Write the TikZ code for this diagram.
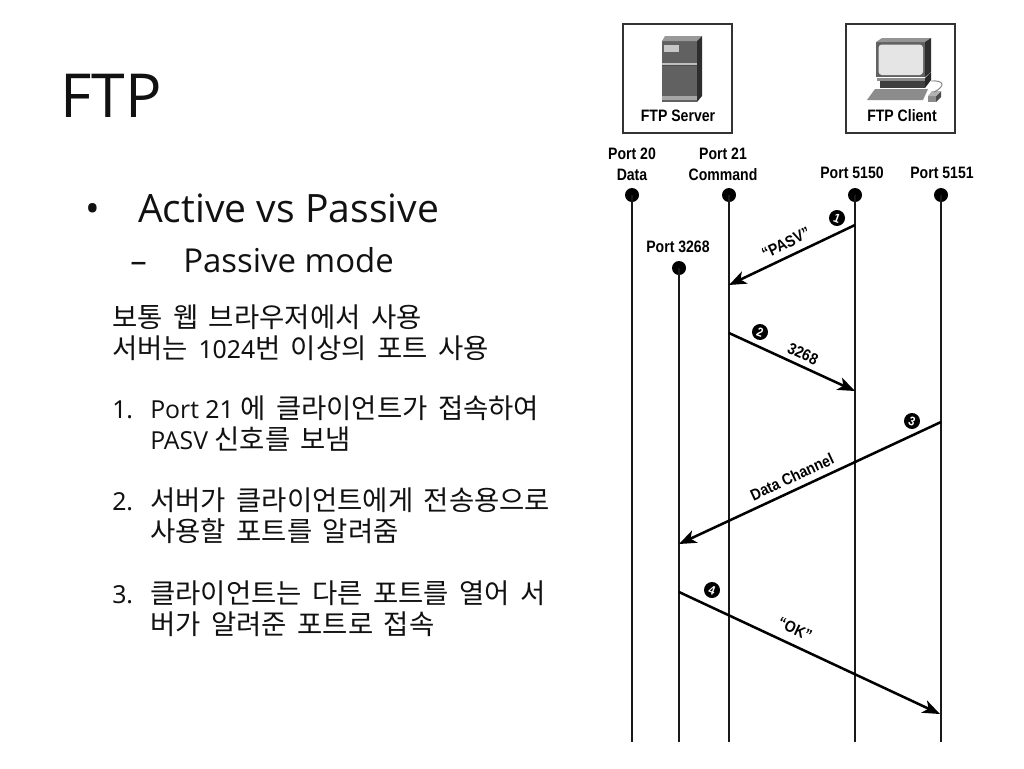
\documentclass[tikz,border=0pt]{standalone}
\usepackage{fontspec}
\usetikzlibrary{arrows.meta}
\setmainfont{Open Sans}
\newfontfamily\digfont{Noto Sans}
\newcommand{\dg}[1]{{\digfont #1}}
\newfontfamily\cjkbase[WordSpace=1.7]{Noto Sans CJK KR}
\newcommand{\ko}[1]{{\cjkbase\fontsize{20.6}{22}\selectfont #1}}
\newfontfamily\figfont[FakeStretch=0.85]{Liberation Sans Bold}
\newfontfamily\msgfont[FakeStretch=0.88]{Liberation Sans Bold}
\definecolor{txt}{HTML}{111111}
\tikzset{
  x=0.75pt,y=-0.75pt,
  title/.style={anchor=base west,inner sep=0pt,font=\fontsize{45.5}{50}\selectfont,text=txt},
  lvlone/.style={anchor=base west,inner sep=0pt,font=\fontsize{29.3}{32}\selectfont,text=txt},
  lvltwo/.style={anchor=base west,inner sep=0pt,font=\fontsize{24.7}{28}\selectfont,text=txt},
  body/.style={anchor=base west,inner sep=0pt,font=\fontsize{18.6}{20}\selectfont,text=txt},
  figbox/.style={draw=black!80,line width=1.1pt,fill=white},
  figlabel/.style={inner sep=0pt,font=\figfont\fontsize{12.4}{15}\selectfont,align=center,text=black},
  msglabel/.style={inner sep=0pt,font=\msgfont\fontsize{12}{13}\selectfont,text=black},
  dot/.style={circle,fill=black,inner sep=0pt,minimum size=10.5pt},
  step num/.style={circle,fill=black,inner sep=0pt,minimum size=12pt,text=white,font=\msgfont\fontsize{9.5}{10}\selectfont},
  lifeline/.style={line width=1.6pt,black!90},
  msg/.style={line width=1.9pt,black,-{Stealth[length=13pt,width=10pt,inset=3.5pt]}},
}
\begin{document}
\begin{tikzpicture}
\useasboundingbox (0,0) rectangle (1024,768);
\fill[white] (0,0) rectangle (1024,768);

% Left text
\node[title] (ttl) at (60,117) {FTP};
\node[lvlone] (bul) at (85,222) {•};
\node[lvlone] (act) at (138,222) {Active vs Passive};
\node[lvltwo] (dsh) at (130,272) {–};
\node[lvltwo] (pas) at (183,272) {Passive mode};
\node[body] (l1) at (112,327) {\ko{보통 웹 브라우저에서 사용}};
\node[body] (l2) at (112,358) {\ko{서버는 }\dg{1024}\ko{번 이상의 포트 사용}};
\node[body] (n1) at (112,418) {\dg{1.}};
\node[body] (l3) at (150,418) {Port \dg{21} \ko{에 클라이언트가 접속하여}};
\node[body] (l4) at (150,449) {PASV \ko{신호를 보냄}};
\node[body] (n2) at (112,510) {\dg{2.}};
\node[body] (l5) at (150,510) {\ko{서버가 클라이언트에게 전송용으로}};
\node[body] (l6) at (150,541) {\ko{사용할 포트를 알려줌}};
\node[body] (n3) at (112,603) {\dg{3.}};
\node[body] (l7) at (150,603) {\ko{클라이언트는 다른 포트를 열어 서}};
\node[body] (l8) at (150,634) {\ko{버가 알려준 포트로 접속}};

% Boxes
\draw[figbox] (623,24) rectangle (732,133);
\draw[figbox] (846,24) rectangle (955,133);
\node[figlabel] (srv) at (678,116) {FTP Server};
\node[figlabel] (cli) at (902,116) {FTP Client};

% Server icon
\fill[black!62] (662,41) -- (697,41) -- (697,102) -- (662,102) -- cycle;
\fill[black!40] (662,41) -- (665,36) -- (702,36) -- (697,41) -- cycle;
\fill[black!82] (697,41) -- (702,36) -- (702,96) -- (697,102) -- cycle;
\fill[black!22] (664,45) rectangle (679,52);
\fill[black!25] (662,63) rectangle (697,64.5);
\fill[black!35] (662,96) rectangle (697,100);
\fill[black!70] (662,64.5) rectangle (697,66);

% Client icon
\fill[black!62] (876,42) -- (925,42) -- (925,77) -- (876,77) -- cycle;
\fill[black!42] (876,42) -- (882,38) -- (931,38) -- (925,42) -- cycle;
\fill[black!82] (925,42) -- (931,38) -- (931,72) -- (925,77) -- cycle;
\fill[black!10,rounded corners=2.5pt] (878.5,44.5) rectangle (923,75);
\fill[black!45] (877,78) rectangle (925,81);
\fill[black!75] (880,81) rectangle (925,88);
\fill[black!85] (925,78) -- (931,72) -- (931,80) -- (925,88) -- cycle;
\fill[black!45] (867,100) -- (875,89) -- (928,89) -- (923,100) -- cycle;
\fill[black!45] (928,96) -- (936,96) -- (936,102) -- (928,102) -- cycle;
\fill[black!70] (936,96) -- (941,91) -- (941,97) -- (936,102) -- cycle;
\fill[black!30] (928,96) -- (932,91) -- (941,91) -- (936,96) -- cycle;
\draw[black!50,line width=0.7pt] (934,92) .. controls (946,86) and (944,80) .. (931,81);

% Port labels
\node[figlabel] (t20) at (632,164) {Port 20\\[0.5pt]Data};
\node[figlabel] (t21) at (723,164) {Port 21\\[0.5pt]Command};
\node[figlabel] (t5150) at (852,173) {Port 5150};
\node[figlabel] (t5151) at (942,173) {Port 5151};
\node[figlabel] (t3268) at (678,247) {Port 3268};

% Lifelines
\node[dot] (p20) at (632,195) {};
\node[dot] (p21) at (729,195) {};
\node[dot] (p5150) at (855,195) {};
\node[dot] (p5151) at (941,195) {};
\node[dot] (p3268) at (679,268) {};
\coordinate (b20) at (632,742);
\coordinate (b21) at (729,742);
\coordinate (b5150) at (855,742);
\coordinate (b5151) at (941,742);
\coordinate (b3268) at (679,742);
\draw[lifeline] (p20.center) -- (b20);
\draw[lifeline] (p21.center) -- (b21);
\draw[lifeline] (p5150.center) -- (b5150);
\draw[lifeline] (p5151.center) -- (b5151);
\draw[lifeline] (p3268.center) -- (b3268);

% Messages
\coordinate (a1) at (855,225);
\coordinate (a1e) at (729,285);
\coordinate (a2) at (729,333);
\coordinate (a2e) at (855,391);
\coordinate (a3) at (941,422);
\coordinate (a3e) at (679,544);
\coordinate (a4) at (679,592);
\coordinate (a4e) at (940,714);
\draw[msg] (a1) -- (a1e);
\draw[msg] (a2) -- (a2e);
\draw[msg] (a3) -- (a3e);
\draw[msg] (a4) -- (a4e);

\node[msglabel,rotate=25.5] (m1) at (786,243) {“PASV”};
\node[msglabel,rotate=-25] (m2) at (803,354) {3268};
\node[msglabel,rotate=25] (m3) at (792,477) {Data Channel};
\node[msglabel,rotate=-25] (m4) at (795,629) {“OK”};

\node[step num,rotate=-20] (s1) at (837,218) {1};
\node[step num,rotate=-20] (s2) at (760,332) {2};
\node[step num,rotate=-20] (s3) at (912,421) {3};
\node[step num,rotate=-20] (s4) at (712,590) {4};
\end{tikzpicture}
\end{document}
